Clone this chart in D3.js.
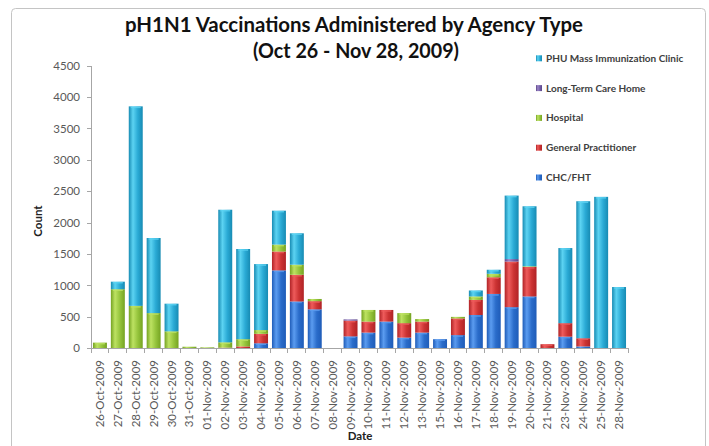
<!DOCTYPE html>
<html lang="en">
<head>
    <meta charset="UTF-8">
    <title>pH1N1 Vaccinations</title>
    <script src="https://d3js.org/d3.v7.min.js"></script>
</head>
<body style="margin:0;background:#fff;">

<style>
    svg { font-family: Lato, "Liberation Sans", Arial, sans-serif; }
    .axis path, .axis line { stroke: #a6a6a6; shape-rendering: crispEdges; }
    .axis text { fill: #595959; font-size: 11.5px; font-family: Lato, sans-serif; }
    .legend text { font-size: 9.5px; font-weight: bold; fill: #404040; }
</style>

<div id="chart"></div>

<script>
    // categories
    var dates = ["26-Oct-2009", "27-Oct-2009", "28-Oct-2009", "29-Oct-2009", "30-Oct-2009", "31-Oct-2009",
        "01-Nov-2009", "02-Nov-2009", "03-Nov-2009", "04-Nov-2009", "05-Nov-2009", "06-Nov-2009",
        "07-Nov-2009", "08-Nov-2009", "09-Nov-2009", "10-Nov-2009", "11-Nov-2009", "12-Nov-2009",
        "13-Nov-2009", "15-Nov-2009", "16-Nov-2009", "17-Nov-2009", "18-Nov-2009", "19-Nov-2009",
        "20-Nov-2009", "21-Nov-2009", "23-Nov-2009", "24-Nov-2009", "25-Nov-2009", "28-Nov-2009"];

    // series values (stack order bottom -> top)
    var chcFht    = [0, 0, 0, 0, 0, 0, 0, 0, 0, 80, 1240, 745, 620, 0, 190, 250, 425, 170, 250, 145, 210, 530, 865, 655, 825, 0, 185, 30, 0, 0];
    var genPract  = [0, 0, 0, 0, 0, 0, 0, 10, 30, 150, 300, 425, 130, 0, 250, 175, 185, 230, 175, 0, 265, 240, 265, 725, 470, 65, 215, 130, 0, 0];
    var hospital  = [90, 940, 675, 560, 270, 25, 15, 85, 115, 60, 110, 160, 35, 0, 0, 185, 0, 160, 40, 0, 25, 55, 55, 0, 10, 0, 0, 0, 0, 0];
    var ltcHome   = [0, 0, 0, 0, 0, 0, 0, 0, 0, 0, 0, 0, 0, 0, 20, 0, 0, 0, 0, 0, 0, 0, 0, 40, 0, 0, 0, 0, 0, 0];
    var phuClinic = [0, 120, 3175, 1195, 440, 0, 0, 2110, 1435, 1050, 540, 500, 0, 0, 0, 0, 0, 0, 0, 0, 0, 95, 65, 1010, 955, 0, 1195, 2180, 2410, 975];

    var seriesNames = ["CHC/FHT", "General Practitioner", "Hospital", "Long-Term Care Home", "PHU Mass Immunization Clinic"];
    var seriesValues = [chcFht, genPract, hospital, ltcHome, phuClinic];
    var yTicks = [0, 500, 1000, 1500, 2000, 2500, 3000, 3500, 4000, 4500];

    var colors = {
        "CHC/FHT": ["#1f5cb8", "#5b9cf0", "#2a6cca"],
        "General Practitioner": ["#b02326", "#ee5b5b", "#cc3333"],
        "Hospital": ["#75a322", "#bde262", "#95c43c"],
        "Long-Term Care Home": ["#5a4488", "#9b85c6", "#7460a8"],
        "PHU Mass Immunization Clinic": ["#178bb3", "#5cd3f2", "#2aaad5"]
    };

    var W = 709, H = 446;
    var plotLeft = 91, plotRight = 628, plotTop = 65.5, plotBottom = 348.3;

    var svg = d3.select("#chart").append("svg")
        .attr("width", W)
        .attr("height", H);

    // gradients for the bevelled bar look
    var defs = svg.append("defs");
    seriesNames.forEach(function(name, i) {
        var c = colors[name];
        var g = defs.append("linearGradient").attr("id", "grad" + i)
            .attr("x1", "0%").attr("x2", "100%").attr("y1", "0%").attr("y2", "0%");
        g.append("stop").attr("offset", "0%").attr("stop-color", c[0]);
        g.append("stop").attr("offset", "30%").attr("stop-color", c[1]);
        g.append("stop").attr("offset", "65%").attr("stop-color", c[2]);
        g.append("stop").attr("offset", "100%").attr("stop-color", c[0]);
    });

    // chart border
    svg.append("rect")
        .attr("x", 11.5).attr("y", 8.5)
        .attr("width", 694).attr("height", 450)
        .attr("rx", 4)
        .attr("fill", "#fff")
        .attr("stroke", "#c4c4c4");

    var table = dates.map(function(d, i) {
        var row = {date: d};
        seriesNames.forEach(function(s, j) { row[s] = seriesValues[j][i]; });
        return row;
    });

    var x = d3.scaleBand()
        .domain(dates)
        .range([plotLeft, plotRight])
        .paddingInner(0.22)
        .paddingOuter(0.11);

    var y = d3.scaleLinear()
        .domain([0, 4500])
        .range([plotBottom, plotTop]);

    var stacked = d3.stack().keys(seriesNames)(table);

    // bars
    var layers = svg.selectAll(".layer")
        .data(stacked).enter()
        .append("g")
        .attr("class", "layer")
        .attr("fill", function(d, i) { return "url(#grad" + i + ")"; });

    layers.selectAll("rect")
        .data(function(d) { return d.filter(function(p) { return p[1] - p[0] > 0; }); })
        .enter().append("rect")
        .attr("x", function(d) { return x(d.data.date); })
        .attr("width", x.bandwidth())
        .attr("y", function(d) { return y(d[1]); })
        .attr("height", function(d) { return y(d[0]) - y(d[1]); });

    // light top edge on each segment
    layers.each(function(d, i) {
        var c = colors[seriesNames[i]][1];
        d3.select(this).selectAll("line.cap")
            .data(d.filter(function(p) { return y(p[0]) - y(p[1]) > 3; }))
            .enter().append("line")
            .attr("class", "cap")
            .attr("x1", function(p) { return x(p.data.date) + 2; })
            .attr("x2", function(p) { return x(p.data.date) + x.bandwidth() - 2; })
            .attr("y1", function(p) { return y(p[1]) + 1; })
            .attr("y2", function(p) { return y(p[1]) + 1; })
            .attr("stroke", c)
            .attr("stroke-width", 1.5)
            .attr("opacity", 0.8);
    });

    // y axis
    svg.append("g")
        .attr("class", "axis")
        .attr("transform", "translate(" + plotLeft + ",0)")
        .call(d3.axisLeft(y).tickValues(yTicks).tickFormat(d3.format("d"))
            .tickSize(4).tickPadding(7).tickSizeOuter(0));

    // x axis: line, boundary ticks, rotated labels
    var xAxis = svg.append("g").attr("class", "axis");
    xAxis.append("line")
        .attr("x1", plotLeft).attr("x2", plotRight)
        .attr("y1", plotBottom).attr("y2", plotBottom);

    var step = x.step();
    var bounds = d3.range(dates.length + 1).map(function(i) {
        return i < dates.length ? x(dates[i]) - (step - x.bandwidth()) / 2 : plotRight;
    });
    xAxis.selectAll(".bt")
        .data(bounds).enter()
        .append("line")
        .attr("x1", function(d) { return d; })
        .attr("x2", function(d) { return d; })
        .attr("y1", plotBottom).attr("y2", plotBottom + 5);

    xAxis.selectAll(".xl")
        .data(dates).enter()
        .append("text")
        .attr("transform", function(d) {
            return "translate(" + (x(d) + x.bandwidth() / 2 + 4) + "," + 360 + ") rotate(-90)";
        })
        .attr("text-anchor", "end")
        .text(function(d) { return d; });

    // titles
    svg.append("text")
        .attr("x", 354).attr("y", 32)
        .attr("text-anchor", "middle")
        .attr("textLength", 458)
        .attr("lengthAdjust", "spacingAndGlyphs")
        .style("font-size", "21px")
        .style("font-weight", "bold")
        .style("fill", "#111")
        .text("pH1N1 Vaccinations Administered by Agency Type");

    svg.append("text")
        .attr("x", 356).attr("y", 58)
        .attr("text-anchor", "middle")
        .attr("textLength", 206)
        .attr("lengthAdjust", "spacingAndGlyphs")
        .style("font-size", "21px")
        .style("font-weight", "bold")
        .style("fill", "#111")
        .text("(Oct 26 - Nov 28, 2009)");

    svg.append("text")
        .attr("transform", "translate(42,221) rotate(-90)")
        .attr("text-anchor", "middle")
        .style("font-size", "11.5px")
        .style("font-weight", "bold")
        .style("fill", "#222")
        .text("Count");

    svg.append("text")
        .attr("x", 360).attr("y", 440)
        .attr("text-anchor", "middle")
        .style("font-size", "11.5px")
        .style("font-weight", "bold")
        .style("fill", "#222")
        .text("Date");

    // legend (reverse order, top entry is the top of the stack)
    var legend = svg.append("g").attr("class", "legend");
    var legendOrder = seriesNames.slice().reverse();
    var legendItems = legend.selectAll("g")
        .data(legendOrder).enter()
        .append("g")
        .attr("transform", function(d, i) { return "translate(536," + (58.3 + i * 29.8) + ")"; });

    legendItems.append("rect")
        .attr("x", 0).attr("y", -3)
        .attr("width", 6).attr("height", 6)
        .attr("fill", function(d) { return "url(#grad" + seriesNames.indexOf(d) + ")"; });

    legendItems.append("text")
        .attr("x", 10).attr("y", 0)
        .attr("dy", "0.35em")
        .style("font-size", "10px")
        .text(function(d) { return d; });
</script>

</body>
</html>
